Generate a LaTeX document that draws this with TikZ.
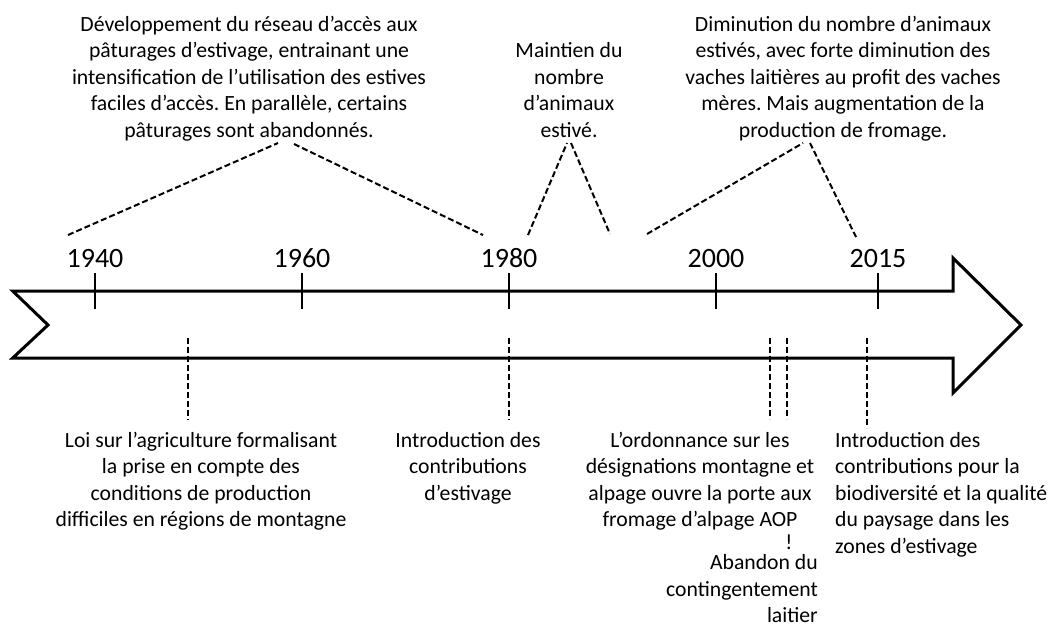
\documentclass[tikz,border=0pt]{standalone}
\usepackage{fontspec}
\setmainfont{Carlito}
\frenchspacing
\begin{document}
\begin{tikzpicture}[x=1pt,y=-1pt,
  txt/.style={font=\fontsize{21.7}{26.5}\selectfont, inner sep=0pt, align=center, anchor=north},
  yr/.style={font=\fontsize{28}{30}\selectfont, inner sep=0pt, anchor=base},
  body/.style={line width=3pt, line join=miter},
  tick/.style={line width=2pt},
  dsh/.style={line width=2pt, dash pattern=on 6pt off 3pt}]
\useasboundingbox (0,0) rectangle (1054,630);

% main arrow
\draw[body] (12.7,291) -- (953,291) -- (953,258) -- (1021,325) -- (953,393) -- (953,358) -- (12.7,358) -- (48,325) -- cycle;

% years and ticks
\foreach \n/\x/\t in {a/95/1940, b/302/1960, c/509/1980, d/716/2000, e/878/2015}{
  \node[yr] (y\n) at (\x,267) {\t};
  \coordinate (t\n1) at (\x,273);
  \coordinate (t\n2) at (\x,309);
  \draw[tick] (t\n1) -- (t\n2);
}

% top texts
\node[txt] (top1) at (249,12.5) {\strut Développement du réseau d’accès aux\\pâturages d’estivage, entrainant une\\intensification de l’utilisation des estives\\faciles d’accès. En parallèle, certains\\pâturages sont abandonnés.};
\node[txt] (top2) at (569,39) {\strut Maintien du\\nombre\\d’animaux\\estivé.};
\node[txt] (top3) at (843,12.5) {\strut Diminution du nombre d’animaux\\estivés, avec forte diminution des\\vaches laitières au profit des vaches\\mères. Mais augmentation de la\\production de fromage.};

% top dashed brackets
\coordinate (p1a) at (68,235); \coordinate (p1b) at (278,143);
\coordinate (p1c) at (294,144); \coordinate (p1d) at (483,235);
\coordinate (p2a) at (528,235); \coordinate (p2b) at (567,143);
\coordinate (p2c) at (571,143); \coordinate (p2d) at (610,234);
\coordinate (p3a) at (647,234); \coordinate (p3b) at (803,143);
\coordinate (p3c) at (810,143); \coordinate (p3d) at (856,237);
\draw[dsh] (p1a) -- (p1b);
\draw[dsh] (p1c) -- (p1d);
\draw[dsh] (p2a) -- (p2b);
\draw[dsh] (p2c) -- (p2d);
\draw[dsh] (p3a) -- (p3b);
\draw[dsh] (p3c) -- (p3d);

% bottom dashed markers
\foreach \n/\x/\b in {a/188/420, b/509/420, c/770/419, d/787/419, e/867/428}{
  \coordinate (m\n1) at (\x,338);
  \coordinate (m\n2) at (\x,\b);
  \draw[dsh] (m\n1) -- (m\n2);
}

% bottom texts
\node[txt] (bot1) at (201,428.5) {\strut Loi sur l’agriculture formalisant\\la prise en compte des\\conditions de production\\difficiles en régions de montagne};
\node[txt] (bot2) at (468,428.5) {\strut Introduction des\\contributions\\d’estivage};
\node[txt] (bot3) at (700,428.5) {\strut L’ordonnance sur les\\désignations montagne et\\alpage ouvre la porte aux\\fromage d’alpage AOP};
\node[font=\fontsize{21.7}{26.5}\selectfont, inner sep=0pt, anchor=base] (bang) at (789,549) {!};
\node[txt, align=right, anchor=north east] (bot4) at (818,551) {\strut Abandon du\\contingentement\\laitier};
\node[txt, align=left, anchor=north west] (bot5) at (835,428.5) {\strut Introduction des\\contributions pour la\\biodiversité et la qualité\\du paysage dans les\\zones d’estivage};
\end{tikzpicture}
\end{document}
